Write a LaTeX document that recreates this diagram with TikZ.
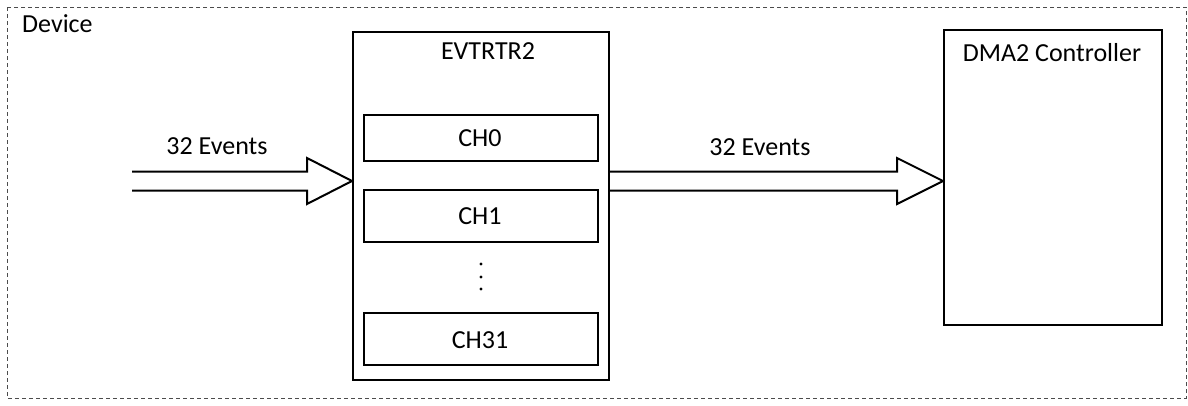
\documentclass[tikz,border=0pt]{standalone}
\usepackage{fontspec}
\setmainfont{Carlito}
\begin{document}
\begin{tikzpicture}[x=1pt,y=-1pt,
  box/.style={draw,line width=2pt,minimum width=#1,anchor=north west,inner sep=0pt},
  chbox/.style={draw,line width=2pt,minimum width=234pt,anchor=north west,inner sep=0pt},
  txt/.style={font=\fontsize{26}{30}\selectfont,inner sep=0pt,anchor=base},
  frame/.style={draw=black!70,line width=1pt,dash pattern=on 4pt off 3pt},
  blockarrow/.style={draw,line width=2pt,line join=miter}]
\useasboundingbox (0,0) rectangle (1188,405);

% outer device boundary
\draw[frame] (7,7) rectangle (1186,398);
\node[txt,anchor=base west] (device) at (22,32) {Device};

% event router block with its channels
\node[box=256pt,minimum height=348pt] (evt) at (352,31) {};
\node[txt] (evtlbl) at (488,59) {EVTRTR2};
\node[chbox,minimum height=46pt] (ch0) at (363,114) {};
\node[txt] at (480,146) {CH0};
\node[chbox,minimum height=52pt] (ch1) at (363,189) {};
\node[txt] at (480,224) {CH1};
\node[chbox,minimum height=52pt] (ch31) at (363,312) {};
\node[txt] at (480,348) {CH31};
\foreach \yy in {264,277,289} \fill (481,\yy) circle (1.6);

% DMA controller
\node[box=218pt,minimum height=295pt] (dma) at (943,29) {};
\node[txt] (dmalbl) at (1052,61) {DMA2 Controller};

% incoming event bus
\coordinate (inStart) at (132,181);
\coordinate (inTip) at (evt.west |- inStart);
\draw[blockarrow] ([yshift=-9.5]inStart) -- ([xshift=-45,yshift=-9.5]inTip)
  -- ([xshift=-45,yshift=-23]inTip) -- (inTip) -- ([xshift=-45,yshift=23]inTip)
  -- ([xshift=-45,yshift=9.5]inTip) -- ([yshift=9.5]inStart);
\node[txt] (inlbl) at (217,154) {32 Events};

% outgoing event bus
\coordinate (outStart) at (evt.east |- inStart);
\coordinate (outTip) at (dma.west |- inStart);
\draw[blockarrow] ([yshift=-9.5]outStart) -- ([xshift=-46,yshift=-9.5]outTip)
  -- ([xshift=-46,yshift=-23]outTip) -- (outTip) -- ([xshift=-46,yshift=23]outTip)
  -- ([xshift=-46,yshift=9.5]outTip) -- ([yshift=9.5]outStart);
\node[txt] (outlbl) at (760,155) {32 Events};
\end{tikzpicture}
\end{document}
